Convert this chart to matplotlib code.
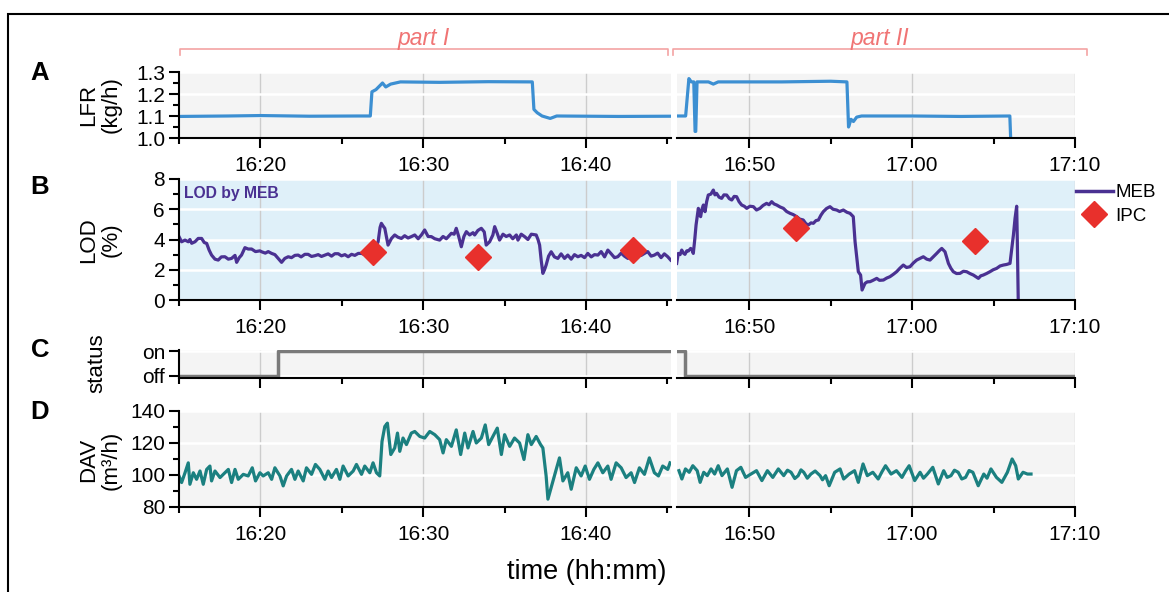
import numpy as np
import matplotlib
matplotlib.use('Agg')
import matplotlib.pyplot as plt
from matplotlib.ticker import MultipleLocator, FuncFormatter
from matplotlib.patches import Rectangle
from matplotlib.lines import Line2D

plt.rcParams['font.family'] = ['Liberation Sans', 'DejaVu Sans']

# time = minutes after 16:00, (time, value) pairs
lfr_1 = [(15.0, 1.098), (18.0, 1.100), (20.0, 1.102), (23.0, 1.099), (26.0, 1.100),
         (26.75, 1.100), (26.85, 1.21), (27.1, 1.22), (27.3, 1.235), (27.5, 1.25),
         (27.7, 1.232), (28.0, 1.245), (28.6, 1.255), (31.0, 1.253), (34.0, 1.256),
         (36.7, 1.255), (36.8, 1.13), (37.0, 1.115), (37.3, 1.10), (37.8, 1.089),
         (38.2, 1.10), (42.0, 1.098), (45.2, 1.099)]
lfr_2 = [(45.57, 1.10), (46.1, 1.10), (46.3, 1.27), (46.45, 1.255), (46.6, 1.255),
         (46.68, 1.03), (46.72, 1.03), (46.8, 1.255), (47.5, 1.255), (47.8, 1.245),
         (48.1, 1.255), (52.0, 1.255), (55.0, 1.258), (56.0, 1.255), (56.1, 1.05),
         (56.25, 1.085), (56.4, 1.075), (56.6, 1.095), (56.9, 1.10), (60.0, 1.10),
         (63.0, 1.098), (66.0, 1.10), (66.05, 1.0), (66.07, 0.98)]

lod_1 = [(15.0, 4.19), (15.16, 3.85), (15.37, 3.96), (15.57, 3.85), (15.67, 4.0), (15.78, 3.75),
         (15.98, 3.85), (16.18, 4.07), (16.39, 4.07), (16.55, 3.80), (16.70, 3.74), (16.85, 3.30),
         (17.0, 2.97), (17.21, 2.70), (17.41, 2.64), (17.6, 2.85), (17.82, 2.86), (18.03, 2.70),
         (18.23, 2.75), (18.44, 2.95), (18.54, 2.49), (18.7, 2.80), (18.84, 2.97), (19.05, 3.46),
         (19.25, 3.37), (19.46, 3.37), (19.7, 3.20), (19.97, 3.25), (20.07, 3.19), (20.3, 3.10),
         (20.48, 3.20), (20.69, 3.08), (20.89, 3.00), (21.09, 2.75), (21.30, 2.49), (21.5, 2.75),
         (21.71, 2.86), (21.91, 2.80), (22.12, 2.95), (22.32, 2.97), (22.5, 2.85), (22.73, 3.02),
         (22.93, 3.02), (23.14, 2.88), (23.35, 2.93), (23.55, 3.00), (23.75, 2.88), (23.96, 2.97),
         (24.16, 3.05), (24.37, 2.90), (24.57, 3.06), (24.78, 3.06), (24.98, 2.92), (25.19, 3.00),
         (25.39, 2.86), (25.6, 3.02), (25.8, 2.95), (26.01, 3.08), (26.21, 3.08), (26.41, 3.00),
         (26.62, 3.15), (26.82, 3.19), (27.03, 3.4), (27.23, 3.85), (27.35, 4.8), (27.43, 5.07),
         (27.53, 4.9), (27.64, 4.74), (27.74, 4.2), (27.84, 3.63), (28.05, 4.07), (28.25, 4.30),
         (28.45, 4.15), (28.66, 4.07), (28.86, 4.25), (29.07, 4.10), (29.27, 4.19), (29.48, 4.30),
         (29.69, 4.05), (29.89, 4.30), (30.09, 4.63), (30.3, 4.20), (30.50, 4.19), (30.71, 4.05),
         (31.01, 3.96), (31.22, 4.2), (31.42, 4.05), (31.73, 4.41), (31.9, 4.35), (32.03, 4.74),
         (32.18, 4.2), (32.34, 3.52), (32.5, 4.2), (32.65, 4.52), (32.85, 4.30), (33.06, 4.45),
         (33.16, 4.30), (33.36, 4.6), (33.57, 4.74), (33.75, 4.5), (33.87, 3.63), (34.08, 3.85),
         (34.28, 4.3), (34.39, 4.85), (34.55, 4.4), (34.69, 3.96), (34.9, 4.35), (35.10, 4.20),
         (35.31, 4.30), (35.5, 4.05), (35.72, 4.3), (35.82, 3.96), (36.02, 4.35), (36.23, 4.19),
         (36.43, 4.0), (36.64, 4.35), (36.94, 4.30), (37.05, 4.0), (37.15, 3.63), (37.25, 2.6),
         (37.35, 1.76), (37.45, 2.0), (37.55, 2.31), (37.7, 2.9), (37.86, 3.19), (38.06, 2.85),
         (38.27, 2.75), (38.47, 3.05), (38.68, 2.75), (38.88, 2.97), (39.09, 2.70), (39.29, 3.0),
         (39.50, 2.86), (39.7, 2.95), (39.91, 2.80), (40.11, 3.08), (40.32, 2.85), (40.52, 3.0),
         (40.73, 2.97), (40.93, 3.2), (41.14, 2.85), (41.34, 3.30), (41.55, 3.05), (41.75, 2.8),
         (41.95, 2.86), (42.16, 3.1), (42.36, 2.9), (42.57, 2.75), (42.77, 3.1), (42.98, 2.95),
         (43.18, 3.30), (43.39, 2.95), (43.59, 3.08), (43.79, 3.20), (44.0, 2.9), (44.20, 2.97),
         (44.40, 3.1), (44.61, 2.80), (44.81, 3.05), (45.02, 2.86), (45.2, 2.64)]
lod_2 = [(45.55, 2.42), (45.65, 3.08), (45.76, 3.0), (45.86, 3.30), (45.96, 3.1), (46.06, 3.02),
         (46.17, 3.25), (46.27, 3.24), (46.41, 3.41), (46.5, 3.3), (46.57, 3.08), (46.66, 4.0),
         (46.74, 4.96), (46.88, 6.06), (46.95, 5.7), (47.02, 5.51), (47.1, 6.0), (47.19, 6.28),
         (47.29, 5.84), (47.39, 6.5), (47.49, 6.94), (47.65, 7.0), (47.80, 7.27), (47.9, 6.95),
         (48.0, 7.05), (48.15, 6.8), (48.31, 6.72), (48.45, 6.95), (48.62, 6.94), (48.78, 6.7),
         (48.93, 6.61), (49.08, 6.85), (49.23, 6.83), (49.38, 6.5), (49.54, 6.28), (49.7, 6.2),
         (49.85, 6.06), (50.05, 6.2), (50.26, 6.17), (50.45, 5.95), (50.66, 6.06), (50.85, 6.25),
         (51.07, 6.39), (51.22, 6.3), (51.38, 6.50), (51.53, 6.35), (51.69, 6.28), (51.9, 6.15),
         (52.10, 6.06), (52.3, 5.85), (52.51, 5.73), (52.7, 5.65), (52.92, 5.51), (53.1, 5.35),
         (53.32, 5.29), (53.48, 5.05), (53.63, 4.96), (53.8, 5.1), (53.94, 5.07), (54.1, 5.25),
         (54.25, 5.29), (54.4, 5.6), (54.55, 5.84), (54.75, 6.05), (54.96, 6.17), (55.15, 6.0),
         (55.37, 5.95), (55.55, 5.85), (55.78, 5.95), (56.0, 5.8), (56.19, 5.73), (56.39, 5.51),
         (56.50, 3.85), (56.70, 1.87), (56.84, 1.65), (56.93, 0.66), (57.11, 1.10), (57.25, 1.2),
         (57.42, 1.21), (57.6, 1.3), (57.83, 1.43), (58.0, 1.3), (58.24, 1.32), (58.44, 1.45),
         (58.64, 1.54), (58.85, 1.7), (59.05, 1.87), (59.25, 2.1), (59.46, 2.31), (59.66, 2.15),
         (59.87, 2.20), (60.08, 2.45), (60.28, 2.64), (60.48, 2.75), (60.69, 2.86), (60.9, 2.7),
         (61.10, 2.64), (61.3, 2.85), (61.51, 3.08), (61.66, 3.25), (61.82, 3.41), (62.02, 3.19),
         (62.23, 2.42), (62.38, 2.1), (62.53, 1.87), (62.73, 1.75), (62.94, 1.76), (63.15, 1.9),
         (63.35, 1.87), (63.55, 1.75), (63.76, 1.65), (63.9, 1.55), (64.07, 1.43), (64.22, 1.6),
         (64.37, 1.65), (64.57, 1.75), (64.78, 1.87), (64.98, 2.0), (65.19, 2.09), (65.4, 2.25),
         (65.60, 2.31), (65.8, 2.35), (66.01, 2.42), (66.12, 3.4), (66.22, 4.30), (66.32, 5.4),
         (66.42, 6.2), (66.46, 3.85), (66.52, -0.3)]

ipc_t = [26.92, 33.36, 42.87, 52.87, 63.86]
ipc_v = [3.15, 2.82, 3.30, 4.74, 3.90]

status_1 = [(15.0, 0), (21.08, 1), (45.2, 1)]
status_2 = [(45.57, 1), (46.06, 0), (70.0, 0)]

dav_1 = [(15.0, 99.4), (15.16, 95.3), (15.37, 101.4), (15.57, 107.6), (15.67, 94.2), (15.88, 101.4),
         (16.08, 97.3), (16.29, 102.5), (16.49, 94.2), (16.70, 103.5), (16.90, 105.6), (17.0, 96.3),
         (17.21, 102.5), (17.52, 98.4), (17.82, 101.4), (18.03, 103.5), (18.23, 95.3), (18.44, 103.5),
         (18.64, 97.3), (18.95, 100.4), (19.25, 99.4), (19.50, 104.5), (19.70, 96.3), (19.97, 101.4),
         (20.17, 99.4), (20.48, 101.4), (20.69, 97.3), (20.89, 104.5), (21.20, 99.4), (21.40, 93.2),
         (21.61, 99.4), (21.91, 103.5), (22.12, 97.3), (22.32, 102.5), (22.63, 96.3), (22.83, 104.5),
         (23.14, 100.4), (23.38, 106.6), (23.65, 103.5), (23.96, 97.3), (24.16, 102.5), (24.37, 98.4),
         (24.67, 103.5), (24.88, 97.3), (25.08, 105.6), (25.39, 99.4), (25.70, 102.5), (25.90, 106.6),
         (26.21, 100.4), (26.41, 105.6), (26.72, 101.4), (26.92, 107.6), (27.13, 101.4), (27.33, 99.4),
         (27.47, 121.0), (27.64, 130.3), (27.80, 132.4), (28.01, 112.8), (28.25, 116.9), (28.42, 126.2),
         (28.56, 114.8), (28.76, 123.1), (28.97, 119.0), (29.27, 126.2), (29.48, 127.2), (29.79, 124.1),
         (30.09, 123.1), (30.40, 127.2), (30.71, 125.2), (31.01, 122.1), (31.22, 113.8), (31.42, 122.1),
         (31.73, 117.9), (32.03, 128.2), (32.30, 112.8), (32.55, 126.2), (32.75, 116.9), (33.06, 127.2),
         (33.26, 120.0), (33.57, 123.1), (33.81, 131.3), (34.02, 119.0), (34.28, 124.1), (34.55, 129.3),
         (34.80, 112.8), (35.00, 125.2), (35.31, 117.9), (35.61, 123.1), (35.92, 120.0), (36.19, 109.7),
         (36.43, 125.2), (36.64, 119.0), (36.94, 124.1), (37.21, 119.0), (37.35, 116.9), (37.55, 99.4),
         (37.66, 84.9), (37.86, 92.2), (38.17, 103.5), (38.37, 110.7), (38.58, 96.3), (38.88, 101.4),
         (39.09, 91.1), (39.40, 104.5), (39.70, 99.4), (39.95, 105.6), (40.21, 97.3), (40.48, 103.5),
         (40.73, 107.6), (41.03, 101.4), (41.34, 105.6), (41.54, 97.3), (41.85, 107.6), (42.16, 104.5),
         (42.46, 98.4), (42.77, 101.4), (42.98, 95.3), (43.28, 104.5), (43.59, 100.4), (43.89, 110.7),
         (44.20, 101.4), (44.45, 99.4), (44.71, 105.6), (45.02, 103.5), (45.16, 107.6)]
dav_2 = [(45.69, 102.7), (45.87, 97.5), (46.09, 103.8), (46.32, 101.7), (46.54, 105.8), (46.81, 102.7),
         (46.99, 95.4), (47.21, 101.7), (47.43, 99.6), (47.66, 103.8), (47.88, 100.6), (48.10, 105.8),
         (48.33, 99.6), (48.66, 103.8), (48.95, 92.3), (49.22, 102.7), (49.49, 104.8), (49.78, 98.5),
         (50.11, 100.6), (50.45, 102.7), (50.78, 96.5), (51.12, 102.7), (51.45, 98.5), (51.79, 103.8),
         (52.12, 99.6), (52.35, 103.0), (52.57, 101.7), (52.8, 97.8), (53.01, 99.6), (53.18, 103.2),
         (53.35, 101.7), (53.57, 98.0), (53.79, 100.6), (54.05, 102.5), (54.35, 99.6), (54.5, 97.0),
         (54.69, 99.6), (54.91, 93.3), (55.25, 101.7), (55.58, 103.8), (55.80, 97.5), (56.14, 100.6),
         (56.47, 102.7), (56.70, 95.4), (56.99, 106.9), (57.25, 99.6), (57.59, 101.7), (57.92, 97.5),
         (58.15, 102.0), (58.37, 105.8), (58.71, 100.6), (59.04, 102.7), (59.38, 98.5), (59.6, 102.5),
         (59.82, 105.8), (60.16, 96.5), (60.49, 101.7), (60.7, 98.0), (60.94, 100.6), (61.27, 104.8),
         (61.61, 94.4), (61.94, 102.7), (62.15, 98.5), (62.39, 99.6), (62.6, 103.0), (62.83, 101.7),
         (63.05, 97.5), (63.28, 98.5), (63.5, 102.8), (63.73, 101.7), (64.06, 93.3), (64.40, 100.6),
         (64.6, 98.0), (64.84, 103.8), (65.18, 98.5), (65.51, 95.4), (65.85, 101.7), (66.14, 110.0),
         (66.36, 105.8), (66.52, 97.5), (66.81, 101.7), (67.08, 100.6), (67.30, 100.6)]

c_lfr = '#3c8fd2'
c_lod = '#4a3192'
c_ipc = '#e8302c'
c_dav = '#1b8080'
c_stat = '#7a7a7a'

W, H = 1169, 592
fig = plt.figure(figsize=(W / 100, H / 100), dpi=100)
TICK_FS = 15


def box(x0, x1, ytop, ybot):
    return [x0 / W, 1 - ybot / H, (x1 - x0) / W, (ybot - ytop) / H]


def hhmm(v, pos):
    m = int(round(v))
    return f"{16 + m // 60}:{m % 60:02d}"


def style(ax, bg, first, xlim):
    ax.set_facecolor(bg)
    ax.set_xlim(*xlim)
    ax.spines['top'].set_visible(False)
    ax.spines['right'].set_visible(False)
    ax.spines['bottom'].set_linewidth(1.5)
    ax.spines['left'].set_linewidth(1.5)
    if not first:
        ax.spines['left'].set_visible(False)
        ax.tick_params(axis='y', which='both', left=False, labelleft=False)
    ax.xaxis.set_major_locator(MultipleLocator(10))
    ax.xaxis.set_minor_locator(MultipleLocator(5))
    ax.xaxis.set_major_formatter(FuncFormatter(hhmm))
    ax.tick_params(which='major', length=7, width=1.5, labelsize=TICK_FS, pad=3)
    ax.tick_params(axis='x', which='major', pad=6)
    ax.tick_params(which='minor', length=4.5, width=1.5)
    ax.grid(axis='x', which='major', color='#cccccc', lw=1)
    ax.grid(axis='y', which='major', color='white', lw=1.8)
    ax.set_axisbelow(True)


rows = [(72, 138), (179, 300), (350, 378), (411, 507)]
bgs = ['#f4f4f4', '#dff0f9', '#f4f4f4', '#f4f4f4']
axes = []
for (top, bot), bg in zip(rows, bgs):
    a1 = fig.add_axes(box(179, 671, top, bot))
    a2 = fig.add_axes(box(677, 1075, top, bot))
    style(a1, bg, True, (15, 45.22))
    style(a2, bg, False, (45.57, 70))
    axes.append((a1, a2))

# A: LFR
for ax, d in zip(axes[0], [lfr_1, lfr_2]):
    t, v = zip(*d)
    ax.plot(t, v, color=c_lfr, lw=2.3)
    ax.set_ylim(1.0, 1.3)
    ax.yaxis.set_major_locator(MultipleLocator(0.1))
    ax.yaxis.set_minor_locator(MultipleLocator(0.05))
    ax.yaxis.set_major_formatter(FuncFormatter(lambda v, p: f"{v:.1f}"))

# B: LOD
ipc_parts = [(ipc_t[:3], ipc_v[:3]), (ipc_t[3:], ipc_v[3:])]
for ax, d, (it, iv) in zip(axes[1], [lod_1, lod_2], ipc_parts):
    t, v = zip(*d)
    ax.plot(t, v, color=c_lod, lw=2.3)
    ax.plot(it, iv, ls='', marker='D', ms=13.5, color=c_ipc, zorder=5)
    ax.set_ylim(0, 8)
    ax.yaxis.set_major_locator(MultipleLocator(2))
    ax.yaxis.set_minor_locator(MultipleLocator(1))
axes[1][0].text(0.011, 0.94, 'LOD by MEB', transform=axes[1][0].transAxes,
                fontsize=11.3, fontweight='bold', color=c_lod, va='top', ha='left')

# C: status
for ax, d in zip(axes[2], [status_1, status_2]):
    t, v = zip(*d)
    ax.plot(t, v, color=c_stat, lw=2.5, drawstyle='steps-post')
    ax.set_ylim(-0.1, 1.06)
    ax.set_yticks([0, 1])
    ax.set_yticklabels(['off', 'on'])
    ax.tick_params(axis='x', labelbottom=False)

# D: DAV
for ax, d in zip(axes[3], [dav_1, dav_2]):
    t, v = zip(*d)
    ax.plot(t, v, color=c_dav, lw=2.3)
    ax.set_ylim(80, 140)
    ax.yaxis.set_major_locator(MultipleLocator(20))
    ax.yaxis.set_minor_locator(MultipleLocator(10))

# legend for B
handles = [Line2D([], [], color=c_lod, lw=2.5),
           Line2D([], [], ls='', marker='D', ms=13.5, color=c_ipc)]
fig.legend(handles, ['MEB', 'IPC'], loc='upper left', bbox_to_anchor=(1076 / W, 1 - 184 / H),
           frameon=False, fontsize=13.5, handlelength=1.95, handletextpad=0.15,
           borderpad=0, borderaxespad=0, labelspacing=0.35)

# panel letters and y labels
for lab, y in zip('ABCD', [73, 187, 350, 412]):
    fig.text(40 / W, 1 - y / H, lab, fontsize=18.5, fontweight='bold', ha='center', va='center')
ylabs = [('LFR\n(kg/h)', 105, 100), ('LOD\n(%)', 240, 100), ('status', 363, 97),
         ('DAV\n(m³/h)', 460, 100)]
for txt, y, x in ylabs:
    fig.text(x / W, 1 - y / H, txt, rotation=90, fontsize=16,
             ha='center', va='center', multialignment='center', linespacing=1.12)

fig.text(587 / W, 1 - 572 / H, 'time (hh:mm)', fontsize=19.5, ha='center', va='center')

# part brackets
for x0, x1, name in [(180, 668, 'part I'), (673, 1087, 'part II')]:
    fig.add_artist(Line2D([x0 / W, x0 / W, x1 / W, x1 / W],
                          [1 - 55 / H, 1 - 49 / H, 1 - 49 / H, 1 - 55 / H],
                          transform=fig.transFigure, color='#f4a3a3', lw=1.2))
    fig.text((x0 + x1) / 2 / W, 1 - 38 / H, name, fontsize=16.5, style='italic',
             color='#f07474', ha='center', va='center')

# outer frame
fig.add_artist(Rectangle((8 / W, -0.1), 2, 1 - 14 / H + 0.1, transform=fig.transFigure,
                         fill=False, lw=1.5, ec='black'))

fig.savefig('out.png', dpi=100)
